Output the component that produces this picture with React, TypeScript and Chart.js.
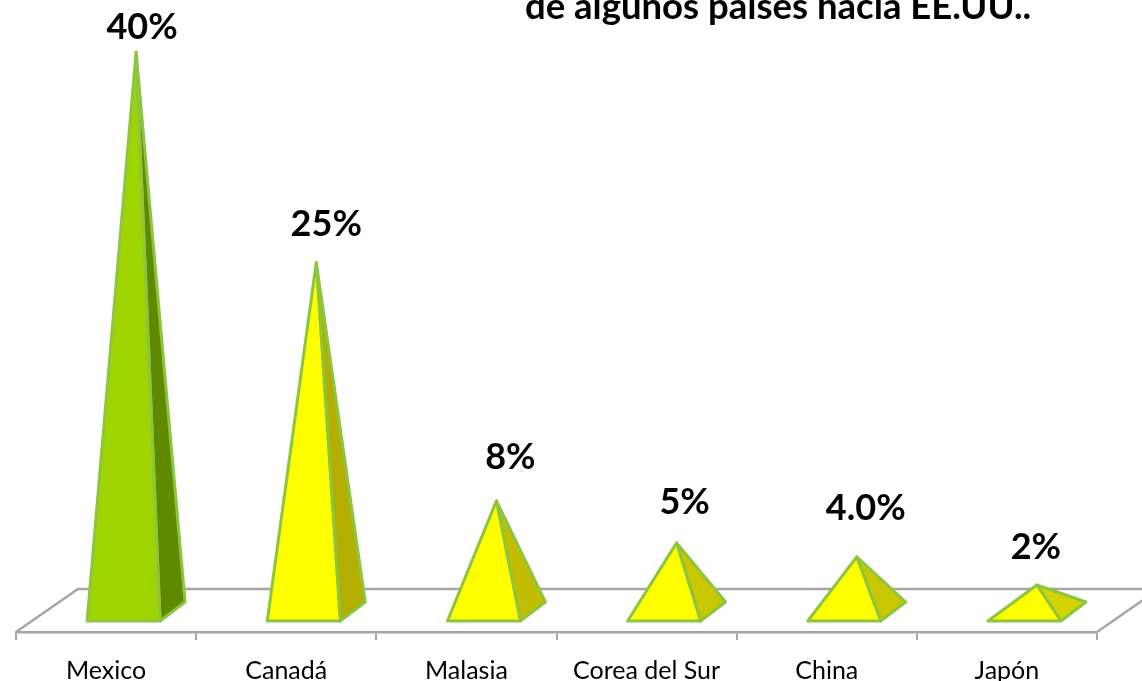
import React, { useEffect, useRef } from "react";
import { Chart, registerables } from "chart.js";

Chart.register(...registerables);

const categories = ["Mexico", "Canadá", "Malasia", "Corea del Sur", "China", "Japón"];
const values = [40, 25, 8, 5, 4, 2];
const valueLabels = ["40%", "25%", "8%", "5%", "4.0%", "2%"];
const titleText = "de algunos países hacia EE.UU..";

const frontColors = ["#9fd400", "#ffff00", "#ffff00", "#ffff00", "#ffff00", "#ffff00"];
const sideColors = ["#5f8a00", "#b3ae00", "#c2bd00", "#c9c800", "#c9c800", "#d6d400"];
const labelOffsets: [number, number][] = [
  [6, -25], [10, -38], [14, -43], [8, -41], [9, -49], [-1, -38],
];

const pyramids = {
  id: "pyramids",
  beforeDatasetsDraw(chart: any) {
    const { ctx, chartArea, scales } = chart;
    const y0 = scales.y.getPixelForValue(0);
    const { left, right, bottom } = chartArea;
    ctx.save();
    // floor
    ctx.strokeStyle = "#a6a6a6";
    ctx.lineWidth = 2.5;
    ctx.beginPath();
    ctx.moveTo(left, bottom);
    ctx.lineTo(left + 62, bottom - 43);
    ctx.lineTo(chart.width, bottom - 43);
    ctx.moveTo(right, bottom);
    ctx.lineTo(right + 62, bottom - 43);
    ctx.stroke();

    const meta = chart.getDatasetMeta(0);
    meta.data.forEach((bar: any, i: number) => {
      const w = bar.width;
      const fl = bar.x - w / 2 + 17.5;
      const fr = fl + w;
      const br = fr + 25;
      const fy = y0 + 8;
      const by = y0 - 11;
      const ax = (fl + br) / 2;
      const ay = bar.y;
      ctx.lineJoin = "round";
      ctx.strokeStyle = "#8cc63f";
      ctx.lineWidth = 3;
      // side
      ctx.fillStyle = sideColors[i];
      ctx.beginPath();
      ctx.moveTo(fr, fy);
      ctx.lineTo(br, by);
      ctx.lineTo(ax, ay);
      ctx.closePath();
      ctx.fill();
      ctx.stroke();
      // front
      ctx.fillStyle = frontColors[i];
      ctx.beginPath();
      ctx.moveTo(fl, fy);
      ctx.lineTo(fr, fy);
      ctx.lineTo(ax, ay);
      ctx.closePath();
      ctx.fill();
      ctx.stroke();
      // value label
      ctx.fillStyle = "#000000";
      ctx.font = "bold 36px Lato";
      ctx.textAlign = "center";
      ctx.textBaseline = "middle";
      ctx.fillText(valueLabels[i], ax + labelOffsets[i][0], ay + labelOffsets[i][1]);
    });

    // clipped heading
    ctx.fillStyle = "#000000";
    ctx.font = "bold 36.5px Lato";
    ctx.textAlign = "left";
    ctx.textBaseline = "alphabetic";
    ctx.fillText(titleText, 525, 19);
    ctx.restore();
  },
};

export default function App() {
  const ref = useRef<HTMLCanvasElement>(null);
  useEffect(() => {
    const chart = new Chart(ref.current!, {
      type: "bar",
      data: {
        labels: categories,
        datasets: [
          {
            data: values,
            backgroundColor: "transparent",
            borderWidth: 0,
            barPercentage: 0.405,
            categoryPercentage: 1,
          },
        ],
      },
      options: {
        responsive: false,
        animation: false,
        layout: { padding: { left: 16, right: 45, top: 0, bottom: 0 } },
        plugins: { legend: { display: false }, tooltip: { enabled: false } },
        scales: {
          x: {
            afterFit(scale: any) {
              scale.height = 49;
            },
            grid: {
              drawOnChartArea: false,
              drawTicks: true,
              tickLength: 8,
              color: "#a6a6a6",
              lineWidth: 2,
            },
            border: { display: true, color: "#a6a6a6", width: 2.5 },
            ticks: {
              padding: 16,
              color: "#000000",
              maxRotation: 0,
              autoSkip: false,
              font: { family: "Lato", size: 25 },
            },
          },
          y: { display: false, min: -1.355, max: 43.72 },
        },
      },
      plugins: [pyramids],
    } as any);
    return () => chart.destroy();
  }, []);
  return (
    <canvas
      ref={ref}
      width={1142}
      height={681}
      style={{ position: "absolute", left: 0, top: 0, width: 1142, height: 681 }}
    />
  );
}
